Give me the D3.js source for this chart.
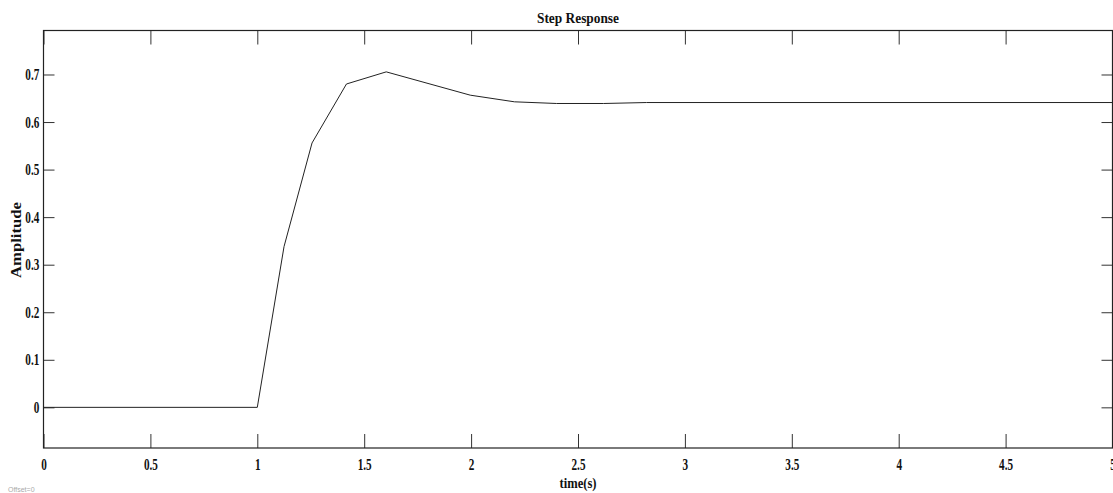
<!DOCTYPE html>
<html>
<head>
<meta charset="utf-8">
<script src="https://cdn.jsdelivr.net/npm/d3@7"></script>
<style>
  html, body { margin: 0; padding: 0; background: #fff; overflow: hidden; }
  svg { display: block; }
  text { font-family: "Liberation Serif", "Times New Roman", serif; font-weight: bold; fill: #111; }
</style>
</head>
<body>
<div id="chart"></div>
<script>
// step response samples
const timeValues = [0, 1, 1.125, 1.256, 1.417, 1.603, 1.996, 2.203, 2.40, 2.62, 2.82, 5];
const amplitudeValues = [0, 0, 0.338, 0.556, 0.680, 0.7055, 0.6565, 0.6425, 0.639, 0.639, 0.641, 0.641];

const xTicks = [0, 0.5, 1, 1.5, 2, 2.5, 3, 3.5, 4, 4.5, 5];
const xTickLabels = ["0", "0.5", "1", "1.5", "2", "2.5", "3", "3.5", "4", "4.5", "5"];
const yTicks = [0, 0.1, 0.2, 0.3, 0.4, 0.5, 0.6, 0.7];
const yTickLabels = ["0", "0.1", "0.2", "0.3", "0.4", "0.5", "0.6", "0.7"];

const W = 1113, H = 493;
const plot = { left: 43.5, right: 1112.5, top: 30.5, bottom: 448 };

const svg = d3.select("#chart").append("svg")
    .attr("width", W)
    .attr("height", H);

const x = d3.scaleLinear().domain([0, 5]).range([plot.left, plot.right]);
const y = d3.scaleLinear().domain([-0.0855, 0.7925]).range([plot.bottom, plot.top]);

const xFmt = d => xTickLabels[xTicks.indexOf(d)];
const yFmt = d => yTickLabels[yTicks.indexOf(d)];

// bottom axis (ticks inside)
const gx = svg.append("g")
    .attr("transform", `translate(0,${plot.bottom})`)
    .call(d3.axisBottom(x).tickValues(xTicks).tickFormat(xFmt).tickSize(-14).tickPadding(11));
gx.selectAll("text")
    .style("font-size", "16px")
    .attr("transform", "scale(0.7,1)");

// top axis
svg.append("g")
    .attr("transform", `translate(0,${plot.top})`)
    .call(d3.axisTop(x).tickValues(xTicks).tickFormat("").tickSize(-14));

// left axis
const gy = svg.append("g")
    .attr("transform", `translate(${plot.left},0)`)
    .call(d3.axisLeft(y).tickValues(yTicks).tickFormat(yFmt).tickSize(-11).tickPadding(6));
gy.selectAll("text")
    .style("font-size", "16px")
    .attr("transform", "scale(0.7,1)");

// right axis
svg.append("g")
    .attr("transform", `translate(${plot.right},0)`)
    .call(d3.axisRight(y).tickValues(yTicks).tickFormat("").tickSize(-11));

svg.selectAll(".domain").remove();
svg.selectAll(".tick line").attr("stroke", "#333").attr("stroke-width", 1);

// frame
svg.append("rect")
    .attr("x", plot.left)
    .attr("y", plot.top)
    .attr("width", plot.right - plot.left)
    .attr("height", plot.bottom - plot.top)
    .attr("fill", "none")
    .attr("stroke", "#222")
    .attr("stroke-width", 1.2);

// response line
const line = d3.line()
    .x((d, i) => x(timeValues[i]))
    .y(d => y(d));

svg.append("path")
    .datum(amplitudeValues)
    .attr("d", line)
    .attr("fill", "none")
    .attr("stroke", "#222")
    .attr("stroke-width", 1);

// title and labels
svg.append("text")
    .attr("x", (plot.left + plot.right) / 2)
    .attr("y", 23)
    .attr("text-anchor", "middle")
    .attr("textLength", 82)
    .attr("lengthAdjust", "spacingAndGlyphs")
    .style("font-size", "15px")
    .text("Step Response");

svg.append("text")
    .attr("x", (plot.left + plot.right) / 2)
    .attr("y", 488)
    .attr("text-anchor", "middle")
    .attr("textLength", 37)
    .attr("lengthAdjust", "spacingAndGlyphs")
    .style("font-size", "15px")
    .text("time(s)");

svg.append("text")
    .attr("transform", "translate(21,240) rotate(-90)")
    .attr("text-anchor", "middle")
    .attr("textLength", 76)
    .attr("lengthAdjust", "spacingAndGlyphs")
    .style("font-size", "14px")
    .text("Amplitude");

svg.append("text")
    .attr("x", 8)
    .attr("y", 492)
    .style("font-family", "'Liberation Sans', Arial, sans-serif")
    .style("font-weight", "normal")
    .style("font-size", "7px")
    .style("fill", "#aaa")
    .text("Offset=0");
</script>
</body>
</html>
